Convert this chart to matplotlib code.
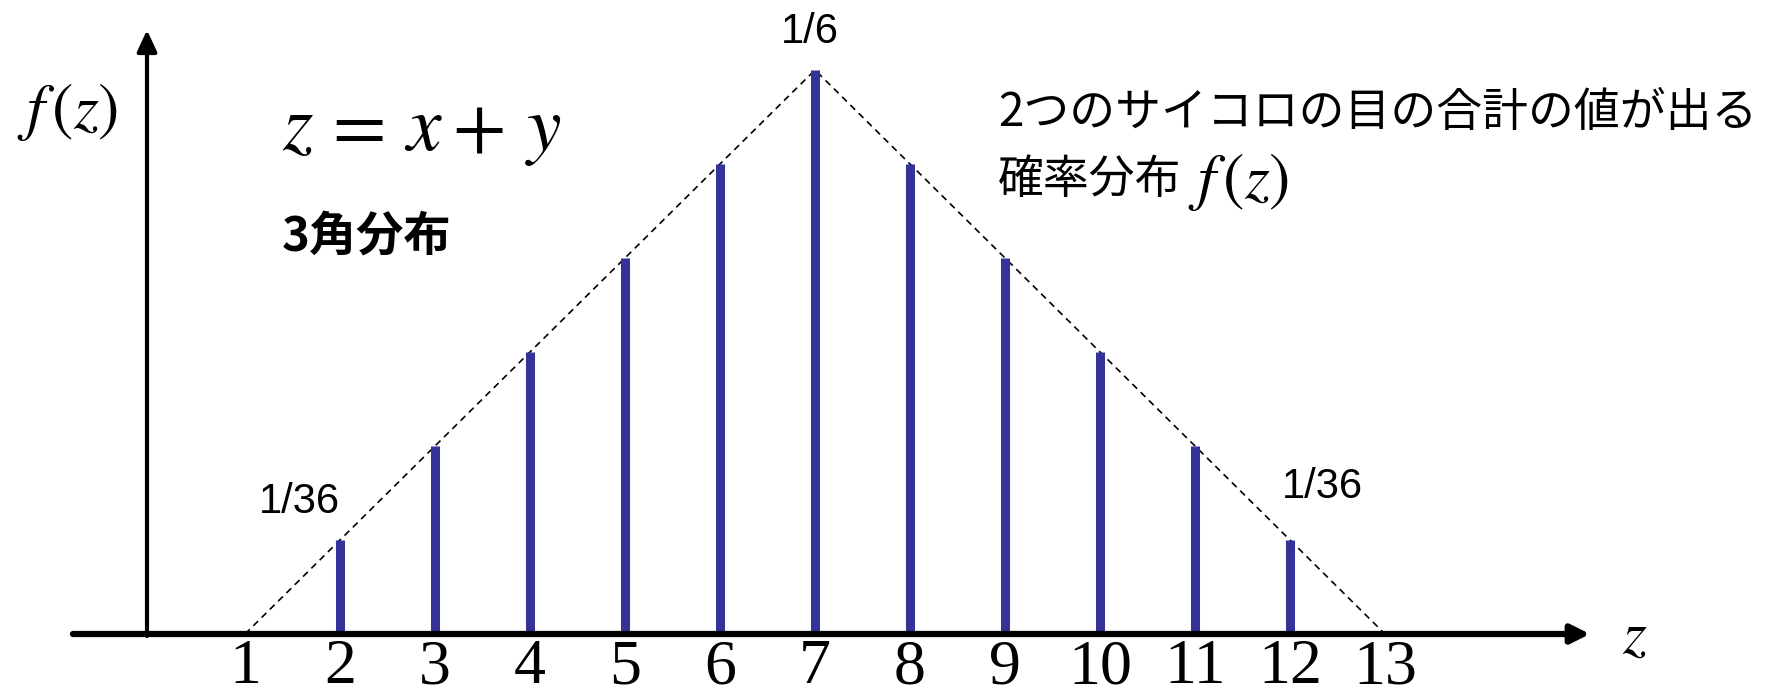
import numpy as np
import matplotlib
matplotlib.use("Agg")
import matplotlib.pyplot as plt

# data
z_vals = [2, 3, 4, 5, 6, 7, 8, 9, 10, 11, 12]
counts = [1, 2, 3, 4, 5, 6, 5, 4, 3, 2, 1]
probs = [c / 36 for c in counts]
tick_vals = list(range(1, 14))
tick_labels = [str(t) for t in tick_vals]
env_z = [1, 7, 13]
env_p = [0, 6 / 36, 0]

W, H = 1769, 694
plt.rcParams['mathtext.fontset'] = 'stix'
jp = ['Noto Sans CJK JP', 'DejaVu Sans']

fig = plt.figure(figsize=(W / 100, H / 100), dpi=100)
ax = fig.add_axes([0, 0, 1, 1])
ax.axis('off')

# scale: pixels per unit
ux, z1_px = 95.0, 245.0
uy, y0_px = 94.0, 634.0
ax.set_xlim(1 - z1_px / ux, 1 + (W - z1_px) / ux)
ax.set_ylim(-(H - y0_px) / uy / 36, y0_px / uy / 36)

def fx(px):
    return px / W

def fy(py):
    return 1 - py / H

# axes arrows
ax.annotate('', xy=(fx(1590), fy(634)), xytext=(fx(73), fy(634)),
            xycoords='axes fraction', textcoords='axes fraction',
            arrowprops=dict(arrowstyle='-|>,head_length=1.1,head_width=0.55',
                            lw=4.5, color='black', shrinkA=0, shrinkB=0))
ax.annotate('', xy=(fx(147), fy(30)), xytext=(fx(147), fy(636)),
            xycoords='axes fraction', textcoords='axes fraction',
            arrowprops=dict(arrowstyle='-|>,head_length=1.3,head_width=0.6',
                            lw=3, color='black', shrinkA=0, shrinkB=0))

# envelope
ax.plot(env_z, env_p, color='black', lw=1.2, ls=(0, (4, 3)))

# bars
ax.vlines(z_vals, 0, probs, colors='#333399', lw=6.5)

# tick labels
tick_y = -(668 - y0_px) / uy / 36
for t, lab in zip(tick_vals, tick_labels):
    ax.text(t, tick_y, lab, ha='center', va='center',
            fontsize=46, family='Liberation Serif')

# labels
ax.text(fx(1635), fy(636), r'$z$', transform=ax.transAxes, ha='center',
        va='center', fontsize=44)
ax.text(fx(68), fy(112), r'$f\,(z)$', transform=ax.transAxes, ha='center',
        va='center', fontsize=46)
ax.text(fx(282), fy(130), r'$z\,=\,x+\,y$', transform=ax.transAxes, ha='left',
        va='center', fontsize=56)
ax.text(fx(282), fy(237), '3角分布', transform=ax.transAxes, ha='left',
        va='center', fontsize=34, fontweight='bold', family=jp)
ax.text(fx(998), fy(113), '2つのサイコロの目の合計の値が出る',
        transform=ax.transAxes, ha='left', va='center', fontsize=33,
        family=jp)
ax.text(fx(998), fy(180), '確率分布', transform=ax.transAxes, ha='left',
        va='center', fontsize=33, family=jp)
ax.text(fx(1188), fy(182), r'$f\,(z)$', transform=ax.transAxes, ha='left',
        va='center', fontsize=46)

ax.text(6.95, probs[5] + 18 / uy / 36, '1/6', ha='center', va='bottom',
        fontsize=30, family='Liberation Sans')
ax.text(fx(299), fy(502), '1/36', transform=ax.transAxes, ha='center',
        va='center', fontsize=30, family='Liberation Sans')
ax.text(fx(1322), fy(487), '1/36', transform=ax.transAxes, ha='center',
        va='center', fontsize=30, family='Liberation Sans')

fig.savefig('out.png', dpi=100, facecolor='white')
